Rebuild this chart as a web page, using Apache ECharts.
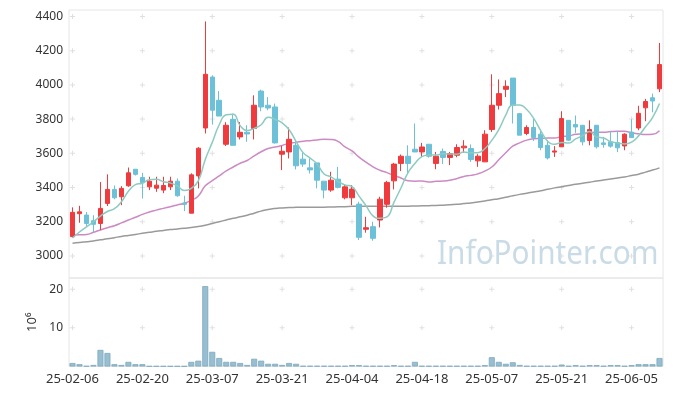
<!DOCTYPE html>
<html><head><meta charset="utf-8">
<script src="https://cdn.jsdelivr.net/npm/echarts@6/dist/echarts.min.js"></script>
<style>html,body{margin:0;padding:0;background:#fff}#c{width:673px;height:396px}</style>
</head><body><div id="c"></div>
<script>
const dates = ['25-02-06','25-02-07','25-02-10','25-02-11','25-02-12','25-02-13','25-02-14','25-02-17','25-02-18','25-02-19',
'25-02-20','25-02-21','25-02-24','25-02-25','25-02-26','25-02-27','25-02-28','25-03-04','25-03-05','25-03-06',
'25-03-07','25-03-10','25-03-11','25-03-12','25-03-13','25-03-14','25-03-17','25-03-18','25-03-19','25-03-20',
'25-03-21','25-03-24','25-03-25','25-03-26','25-03-27','25-03-28','25-03-31','25-04-01','25-04-02','25-04-03',
'25-04-04','25-04-07','25-04-08','25-04-09','25-04-10','25-04-11','25-04-14','25-04-15','25-04-16','25-04-17',
'25-04-18','25-04-21','25-04-22','25-04-23','25-04-24','25-04-25','25-04-28','25-04-29','25-04-30','25-05-02',
'25-05-07','25-05-08','25-05-09','25-05-12','25-05-13','25-05-14','25-05-15','25-05-16','25-05-19','25-05-20',
'25-05-21','25-05-22','25-05-23','25-05-26','25-05-27','25-05-28','25-05-29','25-05-30','25-06-02','25-06-04',
'25-06-05','25-06-09','25-06-10','25-06-11','25-06-12'];

const openV = [3113,3247,3239,3206,3190,3307,3389,3346,3410,3507,
3459,3404,3396,3385,3404,3437,3309,3250,3468,3748,
4046,3910,3653,3799,3696,3723,3745,3964,3881,3871,
3595,3608,3647,3566,3515,3544,3437,3385,3449,3340,
3340,3303,3156,3171,3210,3302,3439,3541,3583,3624,
3608,3653,3541,3611,3576,3589,3632,3628,3556,3550,
3739,3881,3974,4040,3832,3716,3751,3712,3647,3607,
3638,3793,3768,3764,3675,3764,3661,3667,3662,3643,
3724,3748,3866,3925,3977];
const closeV = [3255,3258,3190,3185,3278,3389,3340,3395,3486,3477,
3428,3437,3414,3412,3437,3352,3302,3474,3630,4062,
3852,3818,3764,3647,3723,3713,3881,3871,3865,3661,
3612,3682,3527,3537,3503,3443,3385,3443,3401,3404,
3391,3109,3165,3103,3332,3430,3537,3583,3541,3608,
3637,3583,3583,3576,3599,3634,3642,3564,3583,3712,
3881,3949,3992,3881,3706,3751,3692,3634,3573,3614,
3803,3677,3754,3667,3739,3638,3652,3642,3632,3712,
3692,3834,3903,3906,4119];
const lowV = [3108,3194,3175,3140,3152,3292,3331,3297,3404,3470,
3336,3385,3375,3367,3385,3346,3262,3249,3395,3716,
3768,3818,3643,3647,3681,3667,3681,3846,3852,3657,
3502,3570,3506,3521,3482,3395,3337,3375,3395,3331,
3297,3093,3136,3089,3167,3282,3389,3496,3486,3608,
3579,3575,3507,3537,3531,3577,3603,3550,3521,3550,
3725,3856,3929,3774,3706,3706,3672,3618,3564,3579,
3638,3672,3720,3647,3647,3628,3633,3633,3607,3618,
3692,3735,3788,3840,3958];
const highV = [3284,3293,3257,3238,3432,3477,3412,3408,3517,3507,
3486,3463,3463,3463,3463,3453,3352,3483,3636,4371,
4056,3964,3782,3832,3783,3764,3939,3972,3929,3891,
3643,3751,3677,3605,3570,3544,3437,3492,3521,3420,
3414,3317,3229,3200,3346,3439,3544,3593,3647,3774,
3661,3653,3608,3628,3608,3653,3677,3652,3595,3735,
4062,4032,4027,4040,3832,3764,3803,3739,3677,3642,
3846,3793,3821,3764,3793,3764,3696,3729,3731,3717,
3799,3878,3918,3949,4245];

const volumes = [0.9,0.6,0.15,0.4,4.3,3.5,0.6,0.4,1.2,0.6,
0.6,0.1,0.1,0.1,0.1,0.1,0.1,1.2,1.5,20.8,
3.8,2.2,1.2,1.2,0.9,0.4,2.0,1.5,0.7,0.7,
0.4,0.9,0.7,0.15,0.15,0.15,0.15,0.15,0.15,0.15,
0.35,0.35,0.15,0.15,0.15,0.15,0.35,0.15,0.15,1.2,
0.15,0.15,0.15,0.15,0.15,0.15,0.15,0.15,0.15,0.35,
2.4,1.2,0.7,1.1,0.4,0.15,0.15,0.15,0.15,0.15,
0.5,0.15,0.35,0.15,0.35,0.35,0.15,0.35,0.35,0.15,
0.35,0.6,0.6,0.6,2.2];

const ma5 = [3105,3140,3170,3200,3233,3260,3276,3317,3378,3417,
3425,3445,3448,3434,3426,3410,3383,3395,3439,3564,
3664,3767,3825,3829,3761,3733,3746,3767,3811,3798,
3778,3738,3669,3604,3572,3538,3479,3462,3435,3415,
3405,3350,3294,3234,3220,3228,3313,3397,3485,3540,
3581,3590,3590,3597,3596,3595,3607,3603,3604,3627,
3676,3738,3823,3883,3882,3856,3804,3733,3671,3653,
3663,3660,3684,3703,3728,3695,3690,3668,3661,3655,
3666,3702,3755,3809,3891];
const ma20 = [3122,3124,3126,3138,3152,3165,3177,3193,3210,3226,
3243,3257,3268,3278,3288,3298,3308,3325,3350,3410,
3440,3468,3497,3520,3542,3558,3585,3609,3628,3637,
3646,3659,3664,3671,3674,3678,3683,3681,3670,3637,
3614,3578,3548,3521,3501,3487,3470,3456,3439,3437,
3438,3433,3436,3438,3443,3452,3465,3471,3480,3496,
3520,3562,3603,3642,3661,3677,3685,3687,3689,3689,
3698,3702,3711,3715,3722,3723,3723,3727,3729,3729,
3720,3714,3710,3711,3732];
const ma120 = [3074,3078,3083,3088,3094,3100,3107,3114,3120,3126,
3132,3138,3144,3149,3154,3158,3162,3166,3172,3180,
3190,3200,3210,3220,3229,3238,3250,3262,3272,3278,
3281,3283,3284,3285,3285,3285,3285,3286,3287,3288,
3290,3291,3291,3291,3291,3291,3291,3291,3291,3292,
3293,3294,3295,3297,3299,3302,3306,3310,3315,3321,
3328,3335,3343,3352,3360,3367,3374,3381,3390,3398,
3405,3412,3419,3425,3431,3438,3444,3450,3456,3462,
3470,3478,3490,3502,3515];

const priceTicks = [3000,3200,3400,3600,3800,4000,4200,4400];
const volTicks = [10,20];
const tickIdx = [0,10,20,30,40,50,60,70,80];

const candleData = dates.map((d,i)=>[openV[i],closeV[i],lowV[i],highV[i]]);
const crossMain = []; tickIdx.forEach(x=>priceTicks.forEach(y=>crossMain.push([x,y])));
const crossVol = []; tickIdx.forEach(x=>volTicks.forEach(y=>crossVol.push([x,y])));

const font = "'Noto Sans', sans-serif";
const lbl = {color:'#333',fontSize:12,fontFamily:font,margin:6,formatter:v=>String(v)};
const plus = 'path://M2,0h1v2h2v1h-2v2h-1v-2h-2v-1h2z';

const chart = echarts.init(document.getElementById('c'));
chart.setOption({
  animation:false,
  grid:[
    {left:69,right:10,top:10,height:268,show:true,borderColor:'#e6e6e6',borderWidth:1},
    {left:69,right:10,top:278,height:88.5,show:true,borderColor:'#e6e6e6',borderWidth:1}
  ],
  xAxis:[
    {type:'category',data:dates,gridIndex:0,axisLine:{show:false},axisTick:{show:false},axisLabel:{show:false},splitLine:{show:false}},
    {type:'category',data:dates,gridIndex:1,axisLine:{show:false},axisTick:{show:false},
     axisLabel:{interval:9,color:'#333',fontSize:13,fontFamily:font,margin:6},splitLine:{show:false}}
  ],
  yAxis:[
    {type:'value',gridIndex:0,min:2871,max:4438,splitNumber:8,axisLine:{show:false},axisTick:{show:false},splitLine:{show:false},
     axisLabel:Object.assign({showMinLabel:false,showMaxLabel:false},lbl)},
    {type:'value',gridIndex:1,min:0,max:22.9,interval:10,axisLine:{show:false},axisTick:{show:false},splitLine:{show:false},
     axisLabel:Object.assign({showMinLabel:false,showMaxLabel:false},lbl),
     name:'10\u2076',nameLocation:'middle',nameGap:26,nameRotate:90,nameTextStyle:{color:'#333',fontSize:13,fontFamily:font}}
  ],
  graphic:[{type:'text',left:437,top:238,z:-10,silent:true,scaleX:0.9,
    style:{text:'InfoPointer.com',fontSize:33,fontFamily:font,fill:'#c9dbe6'}}],
  series:[
    {type:'scatter',xAxisIndex:0,yAxisIndex:0,data:crossMain,symbol:plus,symbolSize:5,silent:true,z:0,itemStyle:{color:'#d8d8d8'}},
    {type:'scatter',xAxisIndex:1,yAxisIndex:1,data:crossVol,symbol:plus,symbolSize:5,silent:true,z:0,itemStyle:{color:'#d8d8d8'}},
    {type:'line',xAxisIndex:0,yAxisIndex:0,data:ma120,smooth:true,symbol:'none',lineStyle:{color:'#9a9a9a',width:1.5},z:2},
    {type:'line',xAxisIndex:0,yAxisIndex:0,data:ma20,smooth:true,symbol:'none',lineStyle:{color:'#cc8ac4',width:1.5},z:2},
    {type:'candlestick',xAxisIndex:0,yAxisIndex:0,data:candleData,barWidth:5,z:3,
     itemStyle:{color:'#ef3b3d',color0:'#6cc1d9',borderColor:'#ef3b3d',borderColor0:'#6cc1d9',borderWidth:1}},
    {type:'line',xAxisIndex:0,yAxisIndex:0,data:ma5,smooth:true,symbol:'none',lineStyle:{color:'#8ccbc0',width:1.5},z:4},
    {type:'bar',xAxisIndex:1,yAxisIndex:1,data:volumes,barWidth:6,z:3,
     itemStyle:{color:'#97bfd1',borderColor:'#7ea9bd',borderWidth:0.8}}
  ]
});
</script></body></html>
